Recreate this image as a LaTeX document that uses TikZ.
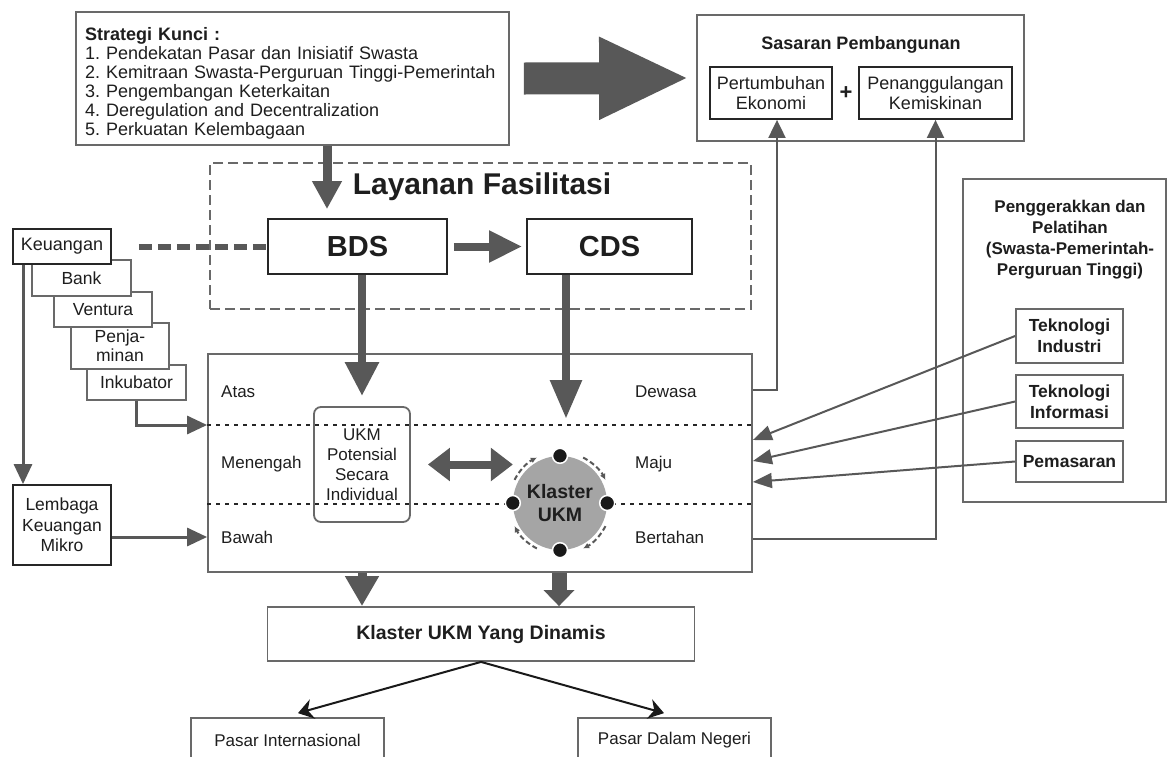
\documentclass[tikz,border=0pt]{standalone}
\usepackage{fontspec}
\setmainfont{Liberation Sans}
\usetikzlibrary{arrows.meta,calc}
\definecolor{ag}{RGB}{88,88,88}
\definecolor{bg}{RGB}{105,105,105}
\definecolor{tx}{RGB}{30,30,30}
\definecolor{cf}{RGB}{165,165,165}
\newcommand\myfs[2]{\fontsize{#1}{#2}\selectfont}
\frenchspacing
\begin{document}
\begin{tikzpicture}[x=1pt,y=-1pt,
  box/.style={draw=bg,line width=1.8pt,fill=white,inner sep=0pt,text=tx,align=center},
  kbox/.style={box,draw=black!85},
  txt/.style={text=tx,inner sep=0pt,align=center},
  tarr/.style n args={3}{draw=ag,line width=#1,-{Triangle[width=#2,length=#3]}},
  larr/.style={draw=ag,line width=2pt,-{Triangle[width=15pt,length=19pt]}},
  sarr/.style={draw=ag,line width=3pt,-{Triangle[width=18pt,length=20pt]}},
  dotln/.style={black!85,line width=1.6pt,dash pattern=on 4pt off 5pt},
  lbl/.style={text=tx,inner sep=0pt,anchor=west,font=\myfs{17}{20}},
]
\fill[white] (0,0) rectangle (1171,756);
\useasboundingbox (0,0) rectangle (1171,756);

% ---- Strategi
\node[box,minimum width=433pt,minimum height=133pt,text width=415pt,align=left,font=\myfs{18}{19}] (strat) at (292.5,78.5)
 {\rule{0pt}{22pt}\textbf{Strategi Kunci :}\\
  1. Pendekatan Pasar dan Inisiatif Swasta\\
  2. Kemitraan Swasta-Perguruan Tinggi-Pemerintah\\
  3. Pengembangan Keterkaitan\\
  4. Deregulation and Decentralization\\
  5. Perkuatan Kelembagaan};

% ---- Sasaran
\node[box,minimum width=327pt,minimum height=126pt] (sas) at (860.5,78) {};
\node[txt,font=\bfseries\myfs{18}{20}] (sast) at (861,45) {Sasaran Pembangunan};
\node[kbox,minimum width=122pt,minimum height=52pt,font=\myfs{18}{20}] (pert) at (771,93) {Pertumbuhan\\Ekonomi};
\node[txt,font=\bfseries\myfs{22}{22}] (plus) at (846,93) {+};
\node[kbox,minimum width=153pt,minimum height=52pt,font=\myfs{18}{20}] (pen) at (935.5,93) {Penanggulangan\\Kemiskinan};

\draw[tarr={32pt}{76pt}{90pt}] ([xshift=14pt]strat.east) -- ([xshift=-7pt]sas.west);

% ---- Layanan Fasilitasi
\node[draw=bg,line width=1.8pt,dash pattern=on 10pt off 5pt,minimum width=541pt,minimum height=146pt,inner sep=0pt] (lay) at (480.5,236) {};
\node[txt,font=\bfseries\myfs{30}{32}] (layt) at (482,187) {Layanan Fasilitasi};
\node[kbox,minimum width=179pt,minimum height=55pt,font=\bfseries\myfs{29}{30}] (bds) at (357.5,246.5) {BDS};
\node[kbox,minimum width=165pt,minimum height=55pt,font=\bfseries\myfs{29}{30}] (cds) at (609.5,246.5) {CDS};

\draw[tarr={9pt}{28pt}{28pt}] ([xshift=34.5pt]strat.south) -- ([xshift=-30.5pt,yshift=9pt]bds.north);
\draw[tarr={8pt}{30pt}{33pt}] ([xshift=6pt]bds.east) -- ([xshift=-4pt]cds.west);

% ---- left stack
\node[box,minimum width=99pt,minimum height=35pt,font=\myfs{17.5}{19}] (ink) at (136.5,382.5) {Inkubator};
\node[box,minimum width=98pt,minimum height=46pt,font=\myfs{17.5}{19}] (penj) at (120,346) {Penja-\\minan};
\node[box,minimum width=98pt,minimum height=35pt,font=\myfs{17.5}{19}] (ven) at (103,309.5) {Ventura};
\node[box,minimum width=99pt,minimum height=36pt,font=\myfs{17.5}{19}] (bank) at (81.5,278) {Bank};
\node[kbox,minimum width=98pt,minimum height=35pt,font=\myfs{18}{19}] (keu) at (62,246.5) {Keuangan};
\node[kbox,minimum width=98pt,minimum height=80pt,font=\myfs{17.5}{20.5}] (lem) at (62,525) {Lembaga\\Keuangan\\Mikro};

\draw[draw=ag,line width=6pt,dash pattern=on 13pt off 6pt] ([xshift=27pt]keu.east) -- (bds.west);

% ---- main block
\node[box,minimum width=544pt,minimum height=218pt] (main) at (480,463) {};
\draw[dotln] ([yshift=38pt]main.west) -- ([yshift=38pt]main.east);
\draw[dotln] ([yshift=-41pt]main.west) -- ([yshift=-41pt]main.east);

\node[lbl] (atas) at (221,392) {Atas};
\node[lbl] (men) at (221,464) {Menengah};
\node[lbl] (baw) at (221,537) {Bawah};
\node[lbl] (dew) at (635,392) {Dewasa};
\node[lbl] (maj) at (635,464) {Maju};
\node[lbl] (ber) at (635,537) {Bertahan};

\node[draw=bg,line width=1.8pt,rounded corners=7pt,minimum width=96pt,minimum height=115pt,inner sep=0pt,align=center,text=tx,font=\myfs{17}{20}] (ukm) at (362,464.5) {UKM\\Potensial\\Secara\\Individual};

\node[circle,fill=cf,minimum size=94pt,inner sep=0pt,align=center,text=tx,font=\bfseries\myfs{19.5}{23}] (kl) at (560,503) {Klaster\\UKM};
\foreach \a in {0,90,180,270}
  \filldraw[fill=black!90,draw=white,line width=1.5pt] (kl.\a) circle (7.5pt);
\foreach \a in {45,135,225,315}
  \draw[ag,line width=2pt,dash pattern=on 5pt off 3pt,-{Latex[length=6pt,width=6pt]}]
    ($(kl.center)+(\a+18:51pt)$) arc[start angle=\a+18,end angle=\a-18,radius=51pt];

\draw[draw=ag,line width=8pt,{Triangle[width=32pt,length=22pt]}-{Triangle[width=32pt,length=22pt]}] ([xshift=17pt]ukm.east) -- ++(85,0);

\coordinate (cdst) at (566,419);
\draw[tarr={8.5pt}{32pt}{34pt}] ([xshift=4.5pt]bds.south) -- ([yshift=10pt]ukm.north);
\draw[tarr={8.5pt}{30pt}{39pt}] (cds.south -| cdst) -- (cdst);

% ---- left arrows
\draw[sarr] ([xshift=-39pt]keu.south) -- ([xshift=-39pt]lem.north);
\draw[sarr] (ink.south) |- ([yshift=38pt]main.west);
\draw[sarr] ([yshift=-12pt]lem.east) -- ([yshift=-74pt]main.west);

% ---- bottom
\node[box,minimum width=427pt,minimum height=54pt,font=\bfseries\myfs{19.5}{22}] (dyn) at (481,634) {Klaster UKM Yang Dinamis};
\draw[tarr={9pt}{32pt}{30pt}] ([xshift=-118pt]main.south) -- ([xshift=-119pt]dyn.north);
\draw[tarr={15pt}{30pt}{16pt}] ([xshift=79pt]main.south) -- ([xshift=78pt]dyn.north);

\node[box,minimum width=193pt,minimum height=44pt,font=\myfs{17}{20}] (pi) at (287.5,740) {Pasar Internasional};
\node[box,minimum width=193pt,minimum height=44pt,font=\myfs{17}{20}] (pd) at (674.5,740) {Pasar Dalam Negeri};
\draw[black!90,line width=2pt,-{Stealth[width=20pt,length=15pt]}] (dyn.south) -- ([xshift=10.5pt,yshift=4pt]pi.north);
\draw[black!90,line width=2pt,-{Stealth[width=20pt,length=15pt]}] (dyn.south) -- ([xshift=-10.5pt,yshift=4pt]pd.north);

% ---- right panel
\node[box,minimum width=203pt,minimum height=323pt] (pgg) at (1064.5,340.5) {};
\node[txt,font=\bfseries\myfs{17}{21}] (pggt) at (1070,240) {Penggerakkan dan\\Pelatihan\\(Swasta-Pemerintah-\\Perguruan Tinggi)};
\node[box,minimum width=107pt,minimum height=54pt,font=\bfseries\myfs{17.5}{21}] (ti) at (1069.5,336) {Teknologi\\Industri};
\node[box,minimum width=107pt,minimum height=53pt,font=\bfseries\myfs{17.5}{21}] (tf) at (1069.5,401.5) {Teknologi\\Informasi};
\node[box,minimum width=107pt,minimum height=41pt,font=\bfseries\myfs{17.5}{21}] (pm) at (1069.5,461.5) {Pemasaran};

\draw[larr] (ti.west) -- ([yshift=23pt]main.east);
\draw[larr] (tf.west) -- ([yshift=2pt]main.east);
\draw[larr] (pm.west) -- ([yshift=-19pt]main.east);

% ---- to Sasaran
\draw[draw=ag,line width=2pt,-{Triangle[width=17pt,length=18pt]}] ([yshift=73pt]main.east) -| ([xshift=6pt]pert.south);
\draw[draw=ag,line width=2pt,-{Triangle[width=17pt,length=18pt]}] ([yshift=-76pt]main.east) -| (pen.south);
\end{tikzpicture}
\end{document}
